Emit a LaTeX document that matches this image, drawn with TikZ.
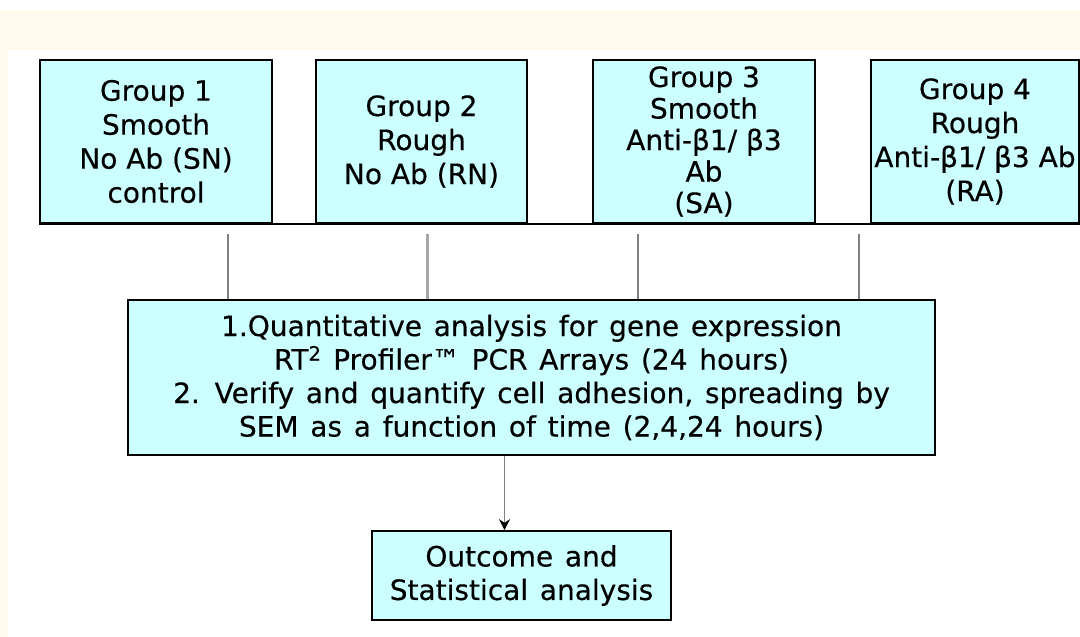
\documentclass[tikz,border=0pt]{standalone}
\usepackage{fontspec}
\setmainfont{DejaVu Sans}
\newfontfamily\comicish[FakeBold=0.4]{DejaVu Sans}
\newcommand{\widewords}{\spaceskip=0.42em plus 0.1em\relax}
\usetikzlibrary{calc}
\usetikzlibrary{arrows.meta}
\definecolor{cream}{RGB}{255,250,235}
\definecolor{boxcyan}{RGB}{204,255,255}
\definecolor{linkgray}{RGB}{128,128,128}

\begin{document}
\begin{tikzpicture}[x=1pt,y=1pt,>={Stealth[black,length=11pt,width=11pt]},
                        groupbox/.style={draw=black,line width=1.6pt,fill=boxcyan,align=center,
                            inner sep=1pt,minimum height=163pt,font=\comicish\fontsize{28}{34}\selectfont},
                        widebox/.style={groupbox,font=\comicish\fontsize{28}{33.5}\selectfont\widewords},
                        link/.style={draw=linkgray,line width=1.4pt}]
                        \useasboundingbox (0,0) rectangle (1080,637);
                        \fill[cream] (0,0) rectangle (1080,627);
                        \fill[white] (8,0) rectangle (1080,587);
                        \node[groupbox,minimum width=232pt] (g1) at (156,495.5)
                            {Group 1\\Smooth\\No Ab (SN)\\control};
                        \node[groupbox,minimum width=211pt] (g2) at (421.5,495.5)
                            {Group 2\\Rough\\No Ab (RN)};
                        \node[groupbox,minimum width=222pt,font=\comicish\fontsize{28}{31.5}\selectfont] (g3) at (704,495.5)
                            {Group 3\\Smooth\\Anti-β1/ β3\\Ab\\(SA)};
                        \node[groupbox,minimum width=208pt] (g4) at (975,495.5)
                            {Group 4\\Rough\\Anti-β1/ β3 Ab\\(RA)};
                        \draw[line width=1.6pt] (g1.south west) -- (g4.south east);
                        \node[widebox,minimum width=807pt,minimum height=155pt] (main) at (531.5,259.5)
                            {1.Quantitative analysis for gene expression\\
                             RT\textsuperscript{2} Profiler™ PCR Arrays (24 hours)\\
                             2. Verify and quantify cell adhesion, spreading by\\
                             SEM as a function of time (2,4,24 hours)};
                        \node[widebox,minimum width=299pt,minimum height=89pt] (out) at (521.5,61.5)
                            {Outcome and\\Statistical analysis};
                        \coordinate (t1) at (228,403);
                        \coordinate (t2) at (427,403);
                        \coordinate (t3) at (638,403);
                        \coordinate (t4) at (859,403);
                        \draw[link] (t1) -- (t1 |- main.north);
                        \draw[link,line width=3pt,draw=linkgray!70] (t2) -- (t2 |- main.north);
                        \draw[link] (t3) -- (t3 |- main.north);
                        \draw[link] (t4) -- (t4 |- main.north);
                        \draw[link,->] (main.south -| out.north) ++(-17,0) coordinate (a1) -- (a1 |- out.north);
                    \end{tikzpicture}
\end{document}
